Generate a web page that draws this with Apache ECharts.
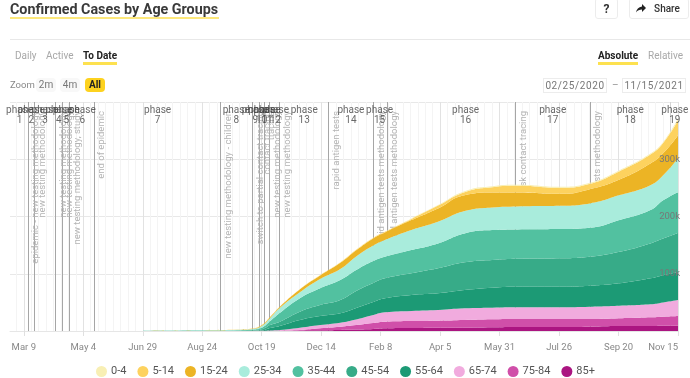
<!DOCTYPE html>
<html>
<head>
<meta charset="utf-8">
<title>Confirmed Cases by Age Groups</title>
<script src="https://cdn.jsdelivr.net/npm/echarts@6/dist/echarts.min.js"></script>
<style>
  html, body { margin: 0; padding: 0; background: #fff; }
  #page { position: relative; width: 690px; height: 378px; overflow: hidden; font-family: Roboto, sans-serif; color: #333; }
  #chart { position: absolute; left: 0; top: 0; width: 690px; height: 378px; }
  .w { position: absolute; white-space: nowrap; font-size: 10px; line-height: 14px; }
  .mark { background: linear-gradient(#fde14f, #fde14f) no-repeat 0 100% / 100% 3px; }
  .off { color: #a8a8a8; }
  .on { color: #222; font-weight: 700; }
  .box { border: 1px solid #ececec; box-sizing: border-box; text-align: center; }
  .chip { text-align: center; border-radius: 4px; background: #f8f8f8; color: #777; height: 14px; }
</style>
</head>
<body>
<div id="page">
  <div id="chart"></div>
  <div class="w" style="left:10px;top:1px;height:18px;font:700 14.3px/17px Roboto,sans-serif;color:#3a3a3a;background:linear-gradient(#fde87a,#fde87a) no-repeat 0 100% / 100% 2px;width:209px">Confirmed Cases by Age Groups</div>
  <div class="w box" style="left:595px;top:-2px;width:23px;height:21px;line-height:20px;font-size:12px;font-weight:700;border-radius:3px">?</div>
  <div class="w box" style="left:629px;top:-2px;width:60px;height:21px;line-height:20px;font-size:10px;font-weight:500;border-radius:3px;padding-left:16px">Share
    <svg style="position:absolute;left:6px;top:5px" width="10" height="9" viewBox="0 0 10 9"><path d="M6 0l4 4-4 4V5.5C3.5 5.5 1.500 6.200 0 8.500 .5 5 2.500 3 6 2.500z" fill="#222"/></svg>
  </div>
  <div style="position:absolute;left:10px;right:0;top:39px;height:1px;background:#e8e8e8"></div>
  <div class="w off" style="left:15px;top:49px">Daily</div>
  <div class="w off" style="left:46px;top:49px">Active</div>
  <div class="w on mark" style="left:83px;top:49px;height:16px">To Date</div>
  <div class="w on mark" style="left:598px;top:49px;height:16px">Absolute</div>
  <div class="w off" style="left:648px;top:49px">Relative</div>
  <div class="w" style="left:10px;top:78px;color:#888;font-size:9.5px">Zoom</div>
  <div class="w chip" style="left:36px;top:78px;width:20px">2m</div>
  <div class="w chip" style="left:60px;top:78px;width:20px">4m</div>
  <div class="w chip" style="left:85px;top:78px;width:20px;background:#fdd21f;color:#222;font-weight:700">All</div>
  <div class="w box" style="left:543px;top:78px;width:64px;height:15px;letter-spacing:.6px;color:#777">02/25/2020</div>
  <div class="w" style="left:612px;top:78px;color:#999">–</div>
  <div class="w box" style="left:622px;top:78px;width:64px;height:15px;letter-spacing:.6px;color:#777">11/15/2021</div>
</div>
<script>
// sample dates the area bands were read at
const sampleDates = ['2020-02-25', '2020-06-26', '2020-07-06', '2020-08-22', '2020-09-29', '2020-10-10', '2020-10-19', '2020-10-27', '2020-11-05', '2020-11-24', '2020-12-13', '2021-01-01', '2021-01-16', '2021-02-01', '2021-02-12', '2021-03-09', '2021-04-03', '2021-04-28', '2021-05-24', '2021-06-17', '2021-07-27', '2021-08-24', '2021-09-21', '2021-10-20', '2021-11-01', '2021-11-15'];

const age0to4 = [0, 0, 0, 0, 0, 0, 200, 200, 200, 200, 200, 350, 350, 350, 200, 870, 870, 1750, 1750, 1750, 1750, 1750, 1750, 1750, 1750, 3490];
const age5to14 = [0, 0, 0, 50, 100, 200, 350, 350, 350, 350, 700, 700, 870, 870, 1050, 2100, 4890, 5240, 9250, 11690, 10470, 9250, 14480, 15700, 17970, 26180];
const age15to24 = [0, 0, 50, 150, 300, 500, 1220, 1750, 1750, 5240, 6110, 10820, 10990, 12600, 13440, 17450, 23380, 27920, 26180, 24430, 20940, 24950, 27400, 37870, 38390, 40140];
const age25to34 = [0, 0, 150, 400, 600, 1000, 2970, 5240, 8730, 10470, 16230, 19200, 23600, 27000, 29140, 34900, 37690, 38910, 39610, 40140, 40660, 42580, 43630, 43630, 43630, 59330];
const age35to44 = [0, 0, 150, 400, 700, 1100, 2790, 6980, 15180, 23380, 29140, 34900, 36650, 38390, 37690, 40660, 43630, 50610, 52350, 51480, 51130, 50610, 55320, 58110, 66830, 71550];
const age45to54 = [0, 0, 100, 200, 400, 700, 1750, 5240, 7500, 14480, 19200, 23210, 29670, 33160, 34900, 37870, 43630, 48340, 48340, 48860, 49560, 50610, 55140, 61080, 64040, 68060];
const age55to64 = [0, 0, 0, 100, 300, 500, 870, 4360, 6980, 13440, 15700, 16400, 20070, 22690, 24430, 27920, 29140, 31930, 34900, 35770, 35950, 36650, 39090, 45370, 47640, 48860];
const age65to74 = [0, 0, 0, 0, 100, 200, 200, 520, 1220, 4010, 5760, 6980, 9600, 13960, 16400, 17450, 18670, 20420, 20240, 20420, 20420, 21460, 21990, 22690, 24950, 27920];
const age75to84 = [0, 0, 0, 0, 0, 0, 100, 260, 350, 870, 3490, 5760, 8030, 10470, 11520, 12220, 12220, 13440, 13960, 13960, 13960, 13440, 13440, 15180, 15700, 16930];
const age85plus = [0, 0, 0, 0, 0, 0, 100, 100, 200, 870, 1220, 1750, 2440, 3490, 4710, 5240, 5760, 5760, 6460, 6980, 6980, 7500, 8730, 8730, 9250, 9250];

const ageGroups = ['0-4', '5-14', '15-24', '25-34', '35-44', '45-54', '55-64', '65-74', '75-84', '85+'];
const ageColors = ['#f8efb4', '#fdd25e', '#ecb425', '#a9ecdc', '#52c1a0', '#37ab88', '#1c9a75', '#f1abde', '#d04fa9', '#ab1581'];
const ageValues = [age0to4, age5to14, age15to24, age25to34, age35to44, age45to54, age55to64, age65to74, age75to84, age85plus];

const tickDates = ['2020-03-09', '2020-05-04', '2020-06-29', '2020-08-24', '2020-10-19', '2020-12-14', '2021-02-08', '2021-04-05', '2021-05-31', '2021-07-26', '2021-09-20', '2021-11-15'];
const tickLabels = ['Mar 9', 'May 4', 'Jun 29', 'Aug 24', 'Oct 19', 'Dec 14', 'Feb 8', 'Apr 5', 'May 31', 'Jul 26', 'Sep 20', 'Nov 15'];

const phaseDates = ['2020-03-05', '2020-03-16', '2020-03-29', '2020-04-11', '2020-04-18', '2020-05-03', '2020-07-13', '2020-09-25', '2020-10-13', '2020-10-19', '2020-10-24', '2020-11-01', '2020-11-28', '2021-01-11', '2021-02-07', '2021-04-29', '2021-07-20', '2021-10-01', '2021-11-12'];

const eventDates = ['2020-03-13', '2020-03-19', '2020-04-08', '2020-04-14', '2020-04-21', '2020-05-14', '2020-09-10', '2020-10-10', '2020-10-17', '2020-10-21', '2020-10-26', '2020-11-05', '2020-12-21', '2021-02-01', '2021-02-14', '2021-06-15', '2021-08-24', '2021-11-08'];
const eventNames = ['epidemic - new testing methodology', 'new testing methodology', 'new testing methodology', 'new testing methodology', 'new testing methodology, study', 'end of epidemic', 'new testing methodology - children', 'switch to partial contact tracing', 'contact tracing', 'tracing', 'new testing methodology', 'new testing methodology', 'rapid antigen tests', 'rapid antigen tests methodology', 'rapid antigen tests methodology', 'risk contact tracing', 'tests methodology', ''];

const toTime = (d) => new Date(d + 'T00:00:00').getTime();
const startDate = toTime('2020-02-25');
const endDate = toTime('2021-11-15');

// faint weekly stripes behind the chart
const weekTicks = [];
for (let t = toTime('2020-03-02'); t <= endDate; t += 7 * 86400000) {
  weekTicks.push(t);
}
const monthTicks = tickDates.map(toTime);

const bandSeries = ageGroups.map((name, i) => ({
  name: name,
  type: 'line',
  stack: 'ages',
  xAxisIndex: 2,
  z: 3,
  smooth: 0.5,
  showSymbol: false,
  silent: true,
  lineStyle: { width: 0 },
  itemStyle: { color: ageColors[i] },
  areaStyle: { color: ageColors[i], opacity: 1 },
  data: sampleDates.map((d, j) => [toTime(d), ageValues[i][j]])
})).reverse();

const options = {
  animation: false,
  backgroundColor: '#fff',
  grid: { left: 10, right: 12, top: 102, bottom: 47 },
  legend: {
    data: ageGroups.map((name) => ({ name: name, icon: 'circle' })),
    left: 91,
    top: 361,
    itemWidth: 11,
    itemHeight: 11,
    itemGap: 11,
    selectedMode: false,
    textStyle: { color: '#555', fontSize: 11, fontFamily: 'Roboto', padding: [0, 0, 0, -1] }
  },
  xAxis: [{
    type: 'value',
    z: 1,
    min: startDate,
    max: endDate,
    axisLine: { show: true, lineStyle: { color: '#e6e6e6' } },
    axisTick: { show: true, length: 5, customValues: monthTicks, lineStyle: { color: '#e0e0e0' } },
    splitLine: { show: true, lineStyle: { color: '#e2e2e2', width: 1 } },
    axisLabel: {
      customValues: monthTicks,
      alignMaxLabel: 'right',
      margin: 12,
      color: '#888',
      fontSize: 9.5,
      fontFamily: 'Roboto',
      formatter: (val) => tickLabels[monthTicks.indexOf(val)]
    }
  }, {
    type: 'value',
    min: startDate,
    max: endDate,
    axisLine: { show: false },
    axisLabel: { show: false },
    axisTick: { show: false, customValues: weekTicks },
    splitLine: { show: true, lineStyle: { color: '#f4f4f4', width: 1 } }
  }, {
    // the stacked bands need a time axis to stack by date
    type: 'time',
    show: false,
    min: startDate,
    max: endDate
  }],
  yAxis: [{
    type: 'value',
    min: 0,
    max: 400000,
    interval: 100000,
    axisLine: { show: false },
    axisTick: { show: false },
    axisLabel: { show: false },
    splitLine: { show: true, lineStyle: { color: '#e8e8e8' } }
  }, {
    // labels only, they sit on top of the areas
    type: 'value',
    position: 'right',
    z: 10,
    min: 0,
    max: 400000,
    interval: 100000,
    axisLine: { show: false },
    axisTick: { show: false },
    splitLine: { show: false },
    axisLabel: {
      inside: true,
      margin: -2,
      color: '#777',
      fontSize: 9.5,
      fontFamily: 'Roboto',
      verticalAlign: 'middle',
      padding: [0, 0, 6, 0],
      formatter: (val) => (val === 0 || val === 400000 ? '' : val / 1000 + 'k')
    }
  }],
  series: bandSeries.concat([{
    name: 'phases',
    type: 'scatter',
    z: 6,
    symbolSize: 0,
    silent: true,
    data: phaseDates.map((d) => [toTime(d), 376000]),
    label: {
      show: true,
      position: 'inside',
      color: '#444',
      fontSize: 10,
      lineHeight: 10,
      fontFamily: 'Roboto',
      formatter: (p) => 'phase\n' + (p.dataIndex + 1)
    },
    markLine: {
      silent: true,
      z: 1,
      symbol: 'none',
      animation: false,
      lineStyle: { type: 'solid', color: '#a6a6a6', width: 1 },
      label: {
        show: true,
        position: 'insideEndBottom',
        formatter: '{b}',
        color: '#b4b4b4',
        fontSize: 9.5,
        fontFamily: 'Roboto',
        distance: 3,
        padding: [0, 6, 0, 0]
      },
      data: eventDates.map((d, i) => ({
        name: eventNames[i],
        xAxis: toTime(d),
        lineStyle: eventNames[i] ? undefined : { color: '#d4d4d4' }
      }))
    }
  }])
};

const myChart = echarts.init(document.getElementById('chart'));
myChart.setOption(options);
</script>
</body>
</html>
